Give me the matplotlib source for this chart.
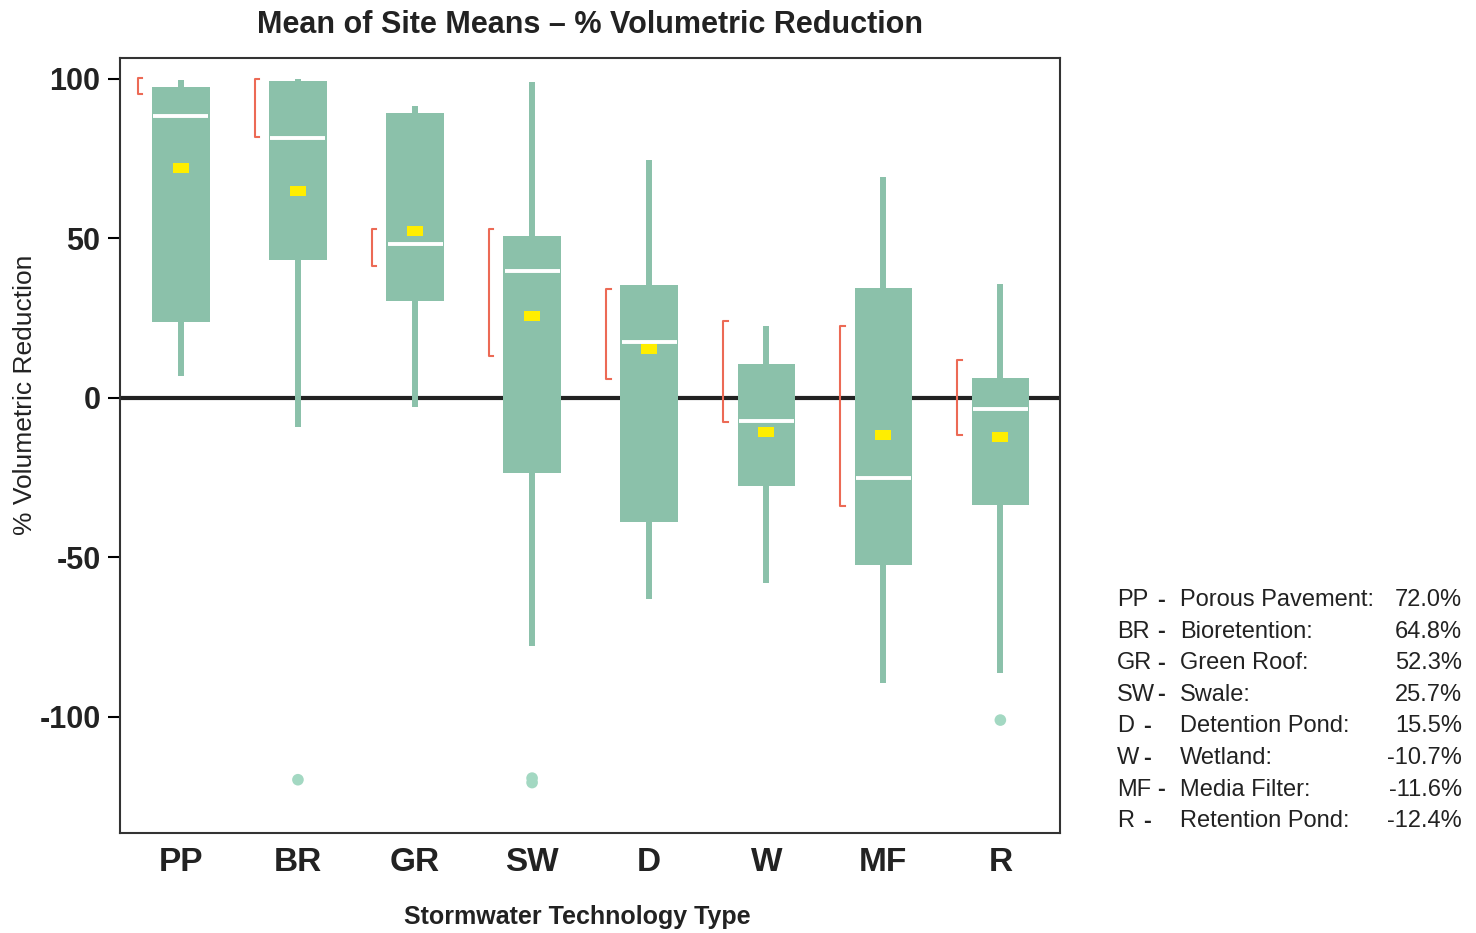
import matplotlib
matplotlib.use("Agg")
import matplotlib.pyplot as plt
from matplotlib.path import Path

plt.rcParams['font.family'] = ['Liberation Sans', 'DejaVu Sans']

# --- data --------------------------------------------------------------
cats = ["PP", "BR", "GR", "SW", "D", "W", "MF", "R"]
names = ["Porous Pavement:", "Bioretention:", "Green Roof:", "Swale:",
         "Detention Pond:", "Wetland:", "Media Filter:", "Retention Pond:"]
means = [72.0, 64.8, 52.3, 25.7, 15.5, -10.7, -11.6, -12.4]
q1 = [23.8, 43.3, 30.5, -23.4, -38.8, -27.6, -52.4, -33.5]
q3 = [97.5, 99.5, 89.2, 50.8, 35.3, 10.6, 34.4, 6.2]
medians = [88.4, 81.6, 48.2, 39.8, 17.6, -7.1, -25.0, -3.4]
whisk_lo = [6.9, -9.1, -2.8, -77.7, -63.0, -58.1, -89.3, -86.2]
whisk_hi = [99.7, 100.0, 91.5, 99.0, 74.6, 22.6, 69.3, 35.7]
ci_lo = [95.3, 81.9, 41.4, 13.3, 5.9, -7.4, -34.0, -11.6]
ci_hi = [100.3, 100.0, 53.0, 53.0, 34.0, 24.1, 22.4, 11.9]
outlier_cat = [1, 3, 3, 7]
outlier_val = [-119.7, -120.6, -119.2, -101.0]

GREEN = "#8bc1aa"
OUT_GREEN = "#a3d8c2"
YELLOW = "#ffee00"
RED = "#ec6a55"
INK = "#222222"

fig = plt.figure(figsize=(14.76, 9.33), dpi=100)
ax = fig.add_axes([0.0813, 0.1072, 0.6369, 0.8307])

xs = list(range(len(cats)))
box_w = 0.49

# whiskers behind boxes
ax.vlines(xs, whisk_lo, whisk_hi, color=GREEN, lw=4.3, zorder=2)
# zero line
ax.axhline(0, color=INK, lw=3, zorder=1)
# boxes
ax.bar(xs, [h - l for h, l in zip(q3, q1)], bottom=q1, width=box_w,
       color=GREEN, edgecolor="none", zorder=3)
# medians
ax.hlines(medians, [x - box_w / 2 + 0.01 for x in xs],
          [x + box_w / 2 - 0.01 for x in xs], color="white", lw=2.8, zorder=4)
# means (small yellow rectangles)
rect = Path([(-1, -0.6), (1, -0.6), (1, 0.6), (-1, 0.6), (-1, -0.6)],
            [Path.MOVETO, Path.LINETO, Path.LINETO, Path.LINETO, Path.CLOSEPOLY])
ax.plot(xs, means, linestyle="none", marker=rect, markersize=12,
        color=YELLOW, markeredgewidth=0, zorder=5)
# confidence brackets
for x, lo, hi in zip(xs, ci_lo, ci_hi):
    bx = x - 0.37
    ax.plot([bx + 0.04, bx, bx, bx + 0.04], [hi, hi, lo, lo],
            color=RED, lw=1.5, zorder=4)
# outliers
ax.scatter(outlier_cat, outlier_val, s=70, color=OUT_GREEN,
           edgecolor="none", zorder=3)

ax.set_xlim(-0.52, 7.51)
ax.set_ylim(-136.4, 106.6)
ax.set_yticks([100, 50, 0, -50, -100])
ax.set_yticklabels(["100", "50", "0", "-50", "-100"])
ax.set_xticks(xs)
ax.set_xticklabels(cats)
ax.tick_params(axis="y", length=9, width=1.5, labelsize=22, pad=5)
ax.tick_params(axis="x", length=0, labelsize=24, pad=10)
for lab in ax.get_xticklabels() + ax.get_yticklabels():
    lab.set_fontweight("bold")
    lab.set_color(INK)
for sp in ax.spines.values():
    sp.set_linewidth(1.5)
    sp.set_color("#333333")

ax.set_ylabel("% Volumetric Reduction", fontsize=19, color=INK)
ax.yaxis.set_label_coords(-0.088, 0.565)
ax.set_xlabel("Stormwater Technology Type", fontsize=18, fontweight="bold",
              color=INK)
ax.xaxis.set_label_coords(0.487, -0.093)
ax.set_title("Mean of Site Means \u2013 % Volumetric Reduction", fontsize=22,
             fontweight="bold", color=INK, pad=18)

# side legend listing the means
y0 = 1 - 600 / 933
dy = 31.6 / 933
for i, (c, n, m) in enumerate(zip(cats, names, means)):
    y = y0 - i * dy
    fig.text(1117 / 1476, y, c, fontsize=17, va="center", color=INK)
    fig.text((1117 + 16 * len(c) + 8) / 1476 if len(c) > 1 else 1143 / 1476, y, "-",
             fontsize=17, fontweight="bold", va="center", color=INK)
    fig.text(1180 / 1476, y, n, fontsize=17, va="center", color=INK)
    fig.text(1462 / 1476, y, f"{m:.1f}%", fontsize=17,
             va="center", ha="right", color=INK)

fig.savefig("out.png", dpi=100)
